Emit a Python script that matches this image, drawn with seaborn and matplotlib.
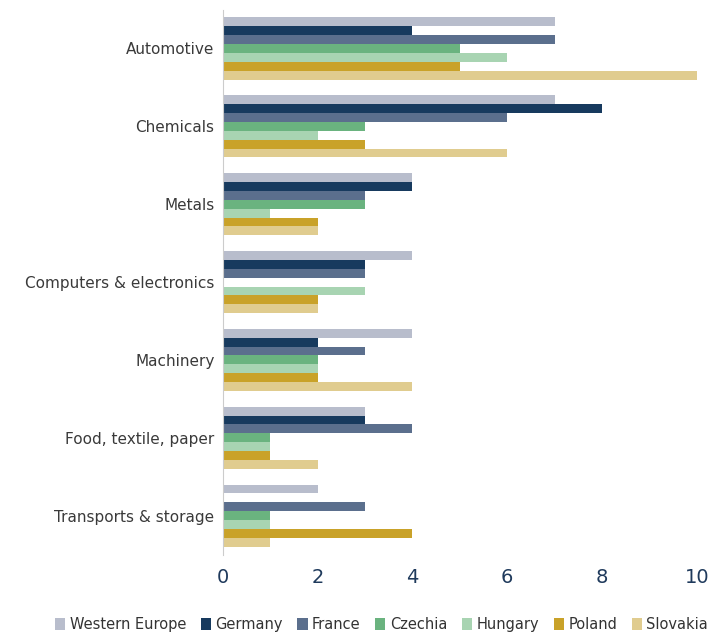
import pandas as pd
import matplotlib.pyplot as plt
import seaborn as sns

# Sectors and countries
sectors = ["Automotive", "Chemicals", "Metals", "Computers & electronics",
           "Machinery", "Food, textile, paper", "Transports & storage"]
countries = ["Western Europe", "Germany", "France", "Czechia",
             "Hungary", "Poland", "Slovakia"]

western_europe = [7, 7, 4, 4, 4, 3, 2]
germany = [4, 8, 4, 3, 2, 3, 0]
france = [7, 6, 3, 3, 3, 4, 3]
czechia = [5, 3, 3, 0, 2, 1, 1]
hungary = [6, 2, 1, 3, 2, 1, 1]
poland = [5, 3, 2, 2, 2, 1, 4]
slovakia = [10, 6, 2, 2, 4, 2, 1]

colors = ["#b8bdcc", "#173a5e", "#5b6f8d", "#6ab37f",
          "#a8d4b2", "#c9a229", "#e0cc8f"]

series = [western_europe, germany, france, czechia, hungary, poland, slovakia]
rows = []
for country, vals in zip(countries, series):
    for sector, v in zip(sectors, vals):
        rows.append({"sector": sector, "country": country, "value": v})
df = pd.DataFrame(rows)

sns.set_style("white")
fig, ax = plt.subplots(figsize=(7.14, 6.36), dpi=100)
fig.subplots_adjust(left=0.312, right=0.976, top=0.985, bottom=0.128)

sns.barplot(data=df, y="sector", x="value", hue="country", order=sectors,
            hue_order=countries, palette=colors, orient="h", width=0.8,
            saturation=1, linewidth=0, ax=ax)

ax.set_xlim(0, 10)
ax.set_xticks([0, 2, 4, 6, 8, 10])
ax.set_xlabel("")
ax.set_ylabel("")
ax.tick_params(axis="x", labelsize=14, labelcolor="#1f3a5c", length=0, pad=10)
ax.tick_params(axis="y", labelsize=11, labelcolor="#3a3a3a", length=0, pad=6)
for s in ["top", "right", "bottom"]:
    ax.spines[s].set_visible(False)
ax.spines["left"].set_color("#cccccc")

handles, labels = ax.get_legend_handles_labels()
ax.legend(handles, labels, loc="upper center", bbox_to_anchor=(0.335, -0.09),
          ncol=7, frameon=False, fontsize=10.5, handlelength=0.7,
          handleheight=0.9, handletextpad=0.3, columnspacing=1.0,
          labelcolor="#333333")

plt.savefig("out.png")
